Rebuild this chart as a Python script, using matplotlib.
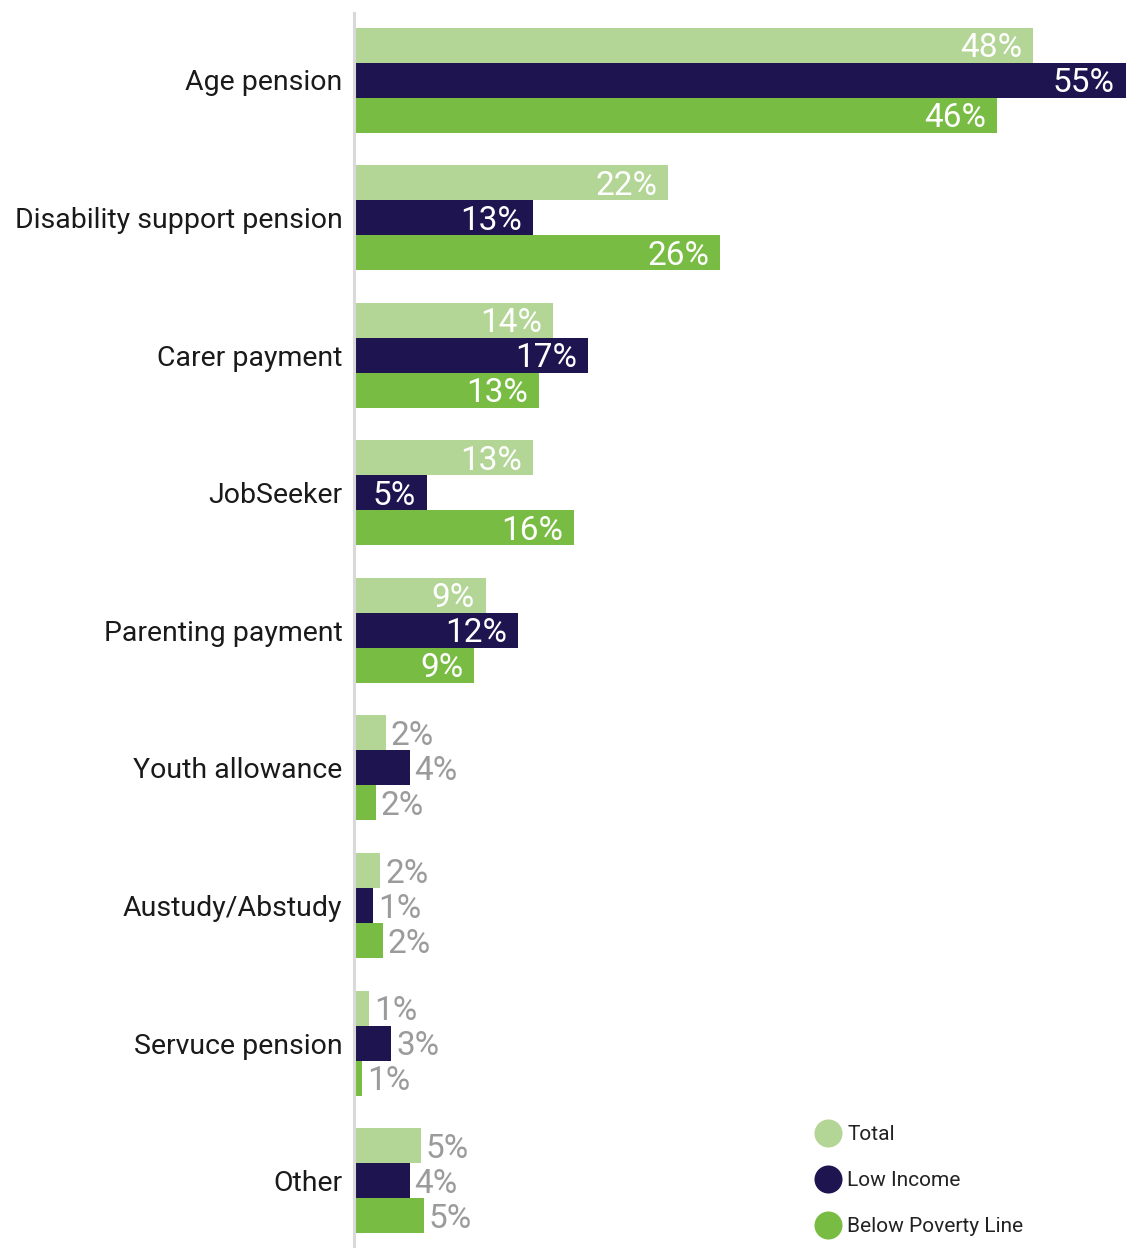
import numpy as np
import matplotlib.pyplot as plt

# benefit types received, by household group (%)
categories = ['Age pension', 'Disability support pension', 'Carer payment', 'JobSeeker',
              'Parenting payment', 'Youth allowance', 'Austudy/Abstudy', 'Servuce pension', 'Other']
total = [48.4, 22.4, 14.2, 12.8, 9.4, 2.3, 1.9, 1.1, 4.8]
low_income = [55.0, 12.8, 16.7, 5.2, 11.7, 4.0, 1.4, 2.7, 4.0]
below_poverty = [45.8, 26.1, 13.2, 15.7, 8.6, 1.6, 2.1, 0.6, 5.0]
series_names = ['Total', 'Low Income', 'Below Poverty Line']
colors = ['#b3d595', '#1e1550', '#79bc43']

W, H = 1126, 1248
fig = plt.figure(figsize=(W / 100, H / 100), dpi=100)
plt.rcParams['font.family'] = ['Roboto', 'DejaVu Sans']

# axes fill the figure to the right of the label column, line starts 13px from top
ax_left = 353.5 / W
top_px = 13
ax = fig.add_axes([ax_left, 0, 1 - ax_left, (H - top_px) / H])
group_px = 137.6
ax.set_ylim((H - 80) / group_px, (top_px - 80) / group_px)
ax.set_xlim(0, 55.0)

y = np.arange(len(categories))
bar_h = 35 / group_px
all_series = [total, low_income, below_poverty]
for k, (vals, col) in enumerate(zip(all_series, colors)):
    ypos = y + (k - 1) * bar_h
    ax.barh(ypos, vals, height=bar_h, color=col, linewidth=0, zorder=1)
    for yy, v in zip(ypos, vals):
        label = f'{round(v):.0f}%'
        if v >= 5.15:
            ax.annotate(label, (v, yy), xytext=(-11, -3), textcoords='offset pixels',
                        ha='right', va='center', color='white', fontsize=24)
        else:
            ax.annotate(label, (v, yy), xytext=(5, -3), textcoords='offset pixels',
                        ha='left', va='center', color='#9b9b9b', fontsize=24)

ax.set_yticks(y)
ax.set_yticklabels(categories, fontsize=20.5, color='#1a1a1a')
ax.tick_params(axis='y', length=0, pad=8)
ax.set_xticks([])
for s in ['top', 'right', 'bottom']:
    ax.spines[s].set_visible(False)
ax.spines['left'].set_color('#d9d9d9')
ax.spines['left'].set_linewidth(2.2)
ax.spines['left'].set_zorder(2)

# legend drawn in pixel space
leg = fig.add_axes([0, 0, 1, 1])
leg.set_xlim(0, W)
leg.set_ylim(H, 0)
leg.axis('off')
for i, (name, col) in enumerate(zip(series_names, colors)):
    ly = 1133 + 46 * i
    leg.scatter([828], [ly], s=28 ** 2 * 0.52, color=col, linewidths=0)
    leg.text(847, ly + 1, name, va='center', ha='left', fontsize=15, color='#222222')

fig.savefig('out.png', dpi=100)
